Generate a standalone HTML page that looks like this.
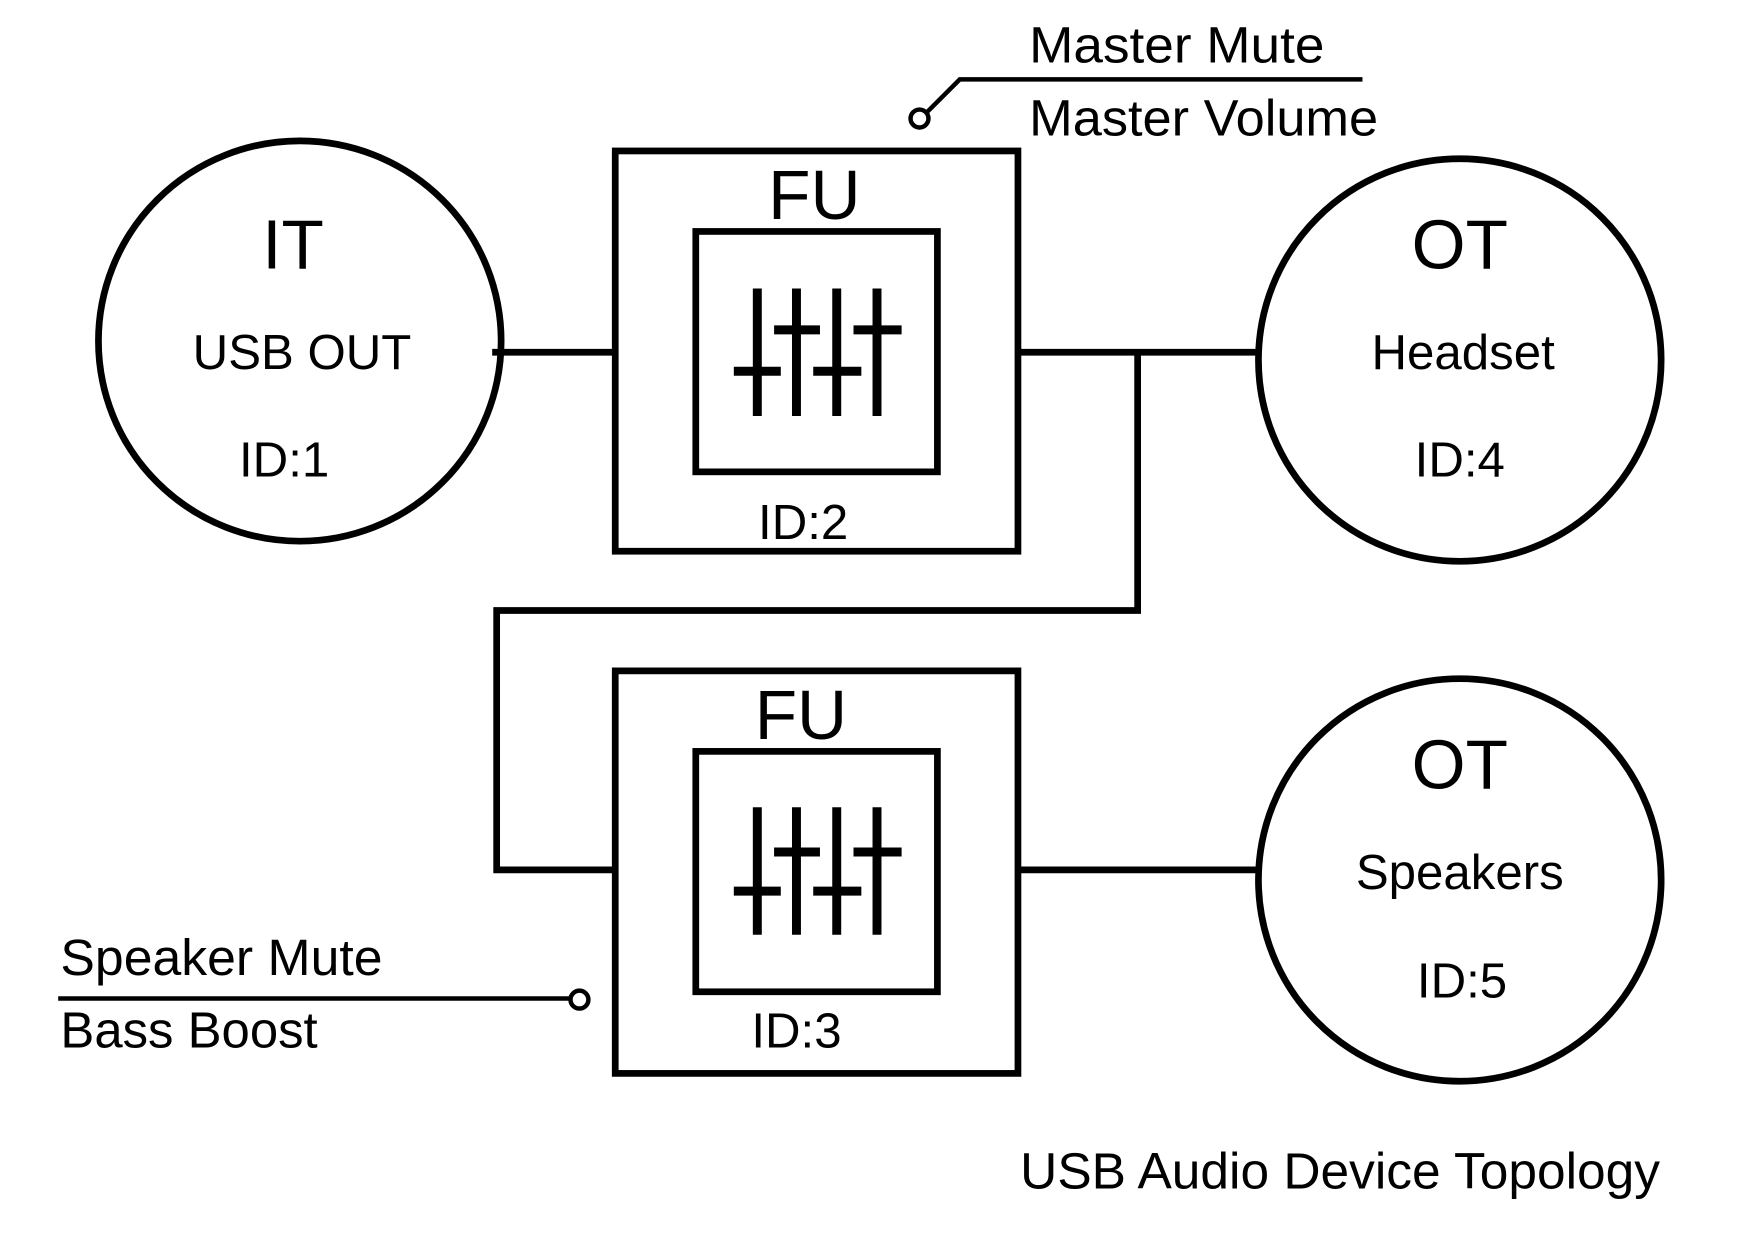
<!DOCTYPE html>
<html><head><meta charset="utf-8"><style>html,body{margin:0;padding:0;background:#fff}svg{display:block}</style></head>
<body>
<svg width="1754" height="1240" viewBox="0 0 1568 1109" preserveAspectRatio="none" xmlns="http://www.w3.org/2000/svg" font-family="'Liberation Sans', sans-serif" fill="#000">
<g fill="none" stroke="#000" stroke-width="6">
<ellipse cx="268" cy="305" rx="180" ry="179"/>
<ellipse cx="1305" cy="322" rx="180" ry="180"/>
<ellipse cx="1305" cy="787" rx="180" ry="180"/>
<rect x="550" y="135" width="360" height="358"/>
<rect x="622" y="207" width="216" height="215"/>
<rect x="550" y="600" width="360" height="360"/>
<rect x="622" y="672" width="216" height="215"/>
<polyline points="440,315 550,315"/>
<polyline points="910,315 1125,315"/>
<polyline points="1017,315 1017,546 444,546 444,778 550,778"/>
<polyline points="910,778 1125,778"/>
<polyline points="1218,71 858,71 828,101" stroke-width="4"/>
<circle cx="822" cy="106" r="8" stroke-width="4"/>
<polyline points="52,893 510,893" stroke-width="4"/>
<circle cx="518" cy="894" r="8" stroke-width="4"/>
</g>
<g stroke="#000" stroke-width="8" fill="none">
<path d="M677 258V372M712 258V372M748 258V372M784 258V372M656 332H698M692 295H733M727 332H770M763 295H806"/>
<path d="M677 722V836M712 722V836M748 722V836M784 722V836M656 797H698M692 762H733M727 797H770M763 762H806"/>
</g>
<g font-size="62" text-anchor="middle">
<text x="262" y="240">IT</text>
<text x="1305" y="240">OT</text>
<text x="1305" y="705">OT</text>
<text x="728" y="196">FU</text>
<text x="716" y="661">FU</text>
</g>
<g font-size="44" text-anchor="middle">
<text x="270" y="330">USB OUT</text>
<text x="254" y="426">ID:1</text>
<text x="1308" y="330">Headset</text>
<text x="1305" y="426">ID:4</text>
<text x="1305" y="795">Speakers</text>
<text x="1307" y="892">ID:5</text>
<text x="718" y="482">ID:2</text>
<text x="712" y="937">ID:3</text>
</g>
<g font-size="46">
<text x="920" y="56" textLength="264" lengthAdjust="spacingAndGlyphs">Master Mute</text>
<text x="920" y="121" textLength="312" lengthAdjust="spacingAndGlyphs">Master Volume</text>
<text x="54" y="872" textLength="288" lengthAdjust="spacingAndGlyphs">Speaker Mute</text>
<text x="54" y="937" textLength="230" lengthAdjust="spacingAndGlyphs">Bass Boost</text>
<text x="912" y="1063" textLength="572" lengthAdjust="spacingAndGlyphs">USB Audio Device Topology</text>
</g>
</svg>
</body></html>
